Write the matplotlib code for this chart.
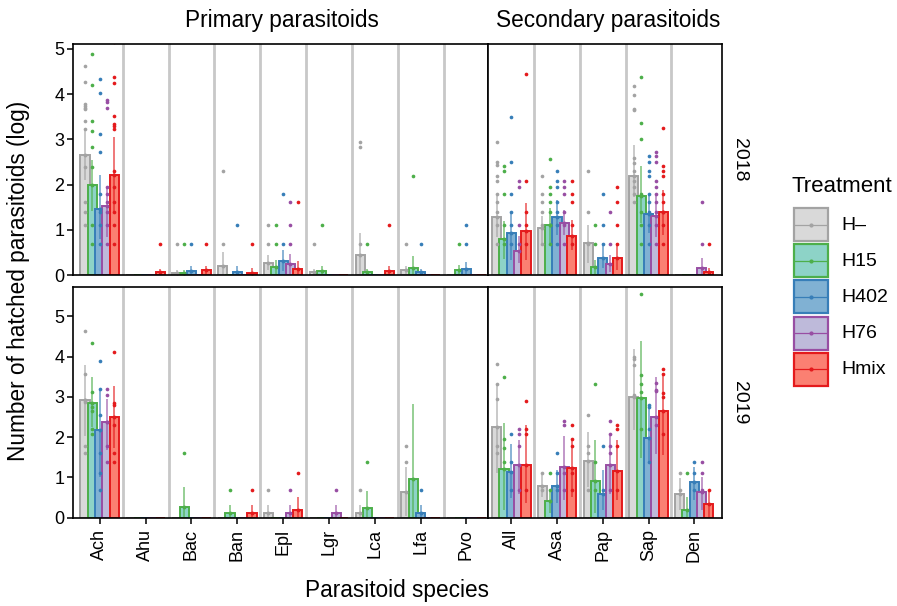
import numpy as np
import matplotlib
matplotlib.use("Agg")
import matplotlib.pyplot as plt

plt.rcParams['font.family'] = ['Liberation Sans', 'DejaVu Sans']

# treatments and colours
treatments = ["H\u2013", "H15", "H402", "H76", "Hmix"]
edge_cols = ["#a3a3a3", "#4daf4a", "#377eb8", "#984ea3", "#e41a1c"]
fill_cols = ["#d9d9d9", "#8dd3c7", "#80b1d3", "#bebada", "#fb8072"]

primary = ["Ach", "Ahu", "Bac", "Ban", "Epl", "Lgr", "Lca", "Lfa", "Pvo"]
secondary = ["All", "Asa", "Pap", "Sap", "Den"]

# ---- 2018, primary: mean and error range per species (H-, H15, H402, H76, Hmix)
mean_18_p = [[2.66, 1.98, 1.47, 1.53, 2.22], [0, 0, 0, 0, 0.06], [0.04, 0.04, 0.09, 0, 0.10],
             [0.21, 0, 0.07, 0, 0.05], [0.27, 0.18, 0.32, 0.24, 0.13], [0.06, 0.09, 0, 0, 0],
             [0.44, 0.06, 0, 0, 0.09], [0.11, 0.16, 0.07, 0, 0], [0, 0.11, 0.14, 0, 0]]
hi_18_p = [[3.22, 2.55, 2.21, 1.95, 3.06], [0, 0, 0, 0, 0.13], [0.12, 0.10, 0.20, 0, 0.20],
           [0.50, 0, 0.20, 0, 0.16], [0.44, 0.33, 0.55, 0.47, 0.30], [0.13, 0.21, 0, 0, 0],
           [0.94, 0.13, 0, 0, 0.21], [0.20, 0.42, 0.13, 0, 0], [0, 0.22, 0.28, 0, 0]]
lo_18_p = [[2.10, 1.42, 0.80, 0.85, 1.40], [0, 0, 0, 0, 0], [0, 0, 0, 0, 0],
           [0, 0, 0, 0, 0], [0.10, 0.03, 0.09, 0.01, 0], [0, 0, 0, 0, 0],
           [0, 0, 0, 0, 0], [0, 0, 0, 0, 0], [0, 0, 0, 0, 0]]
pts_18_p = [
    [[4.62, 4.26, 3.79, 3.74, 3.70, 3.67, 3.41, 3.22, 2.40, 1.61, 1.39, 1.10],
     [4.88, 4.20, 3.41, 3.18, 2.84, 2.40, 1.10, 0.69],
     [4.34, 4.02, 3.13, 2.71, 1.79, 1.39, 1.10, 0.69],
     [3.88, 3.83, 3.69, 1.95, 1.79, 1.61, 1.39, 1.10, 0.69],
     [5.15, 4.37, 4.24, 3.52, 3.34, 3.30, 3.24, 2.30, 1.95, 1.61, 1.39, 1.10, 0.69]],
    [[], [], [], [], [0.69]],
    [[0.69], [0.69], [0.69], [], [0.69]],
    [[2.30, 0.69], [], [1.10], [], [0.69]],
    [[1.10, 0.69], [1.10, 0.69], [1.79, 0.69], [1.61, 1.10, 0.69], [1.61]],
    [[0.69], [1.10], [], [], []],
    [[2.95, 2.83, 0.69], [0.69], [], [], [1.10]],
    [[0.69], [2.20], [0.69], [], []],
    [[], [0.69], [1.10, 0.69], [], []],
]

# ---- 2018, secondary
mean_18_s = [[1.28, 0.80, 0.94, 0.54, 0.98], [1.03, 1.11, 1.28, 1.16, 0.86],
             [0.70, 0.17, 0.38, 0.24, 0.37], [2.20, 1.75, 1.35, 1.31, 1.40], [0, 0, 0, 0.16, 0.06]]
hi_18_s = [[1.75, 1.20, 1.40, 0.87, 1.59], [1.30, 1.48, 1.66, 1.43, 1.22],
           [1.11, 0.33, 0.70, 0.44, 0.70], [2.88, 2.41, 1.80, 1.80, 1.88], [0, 0, 0, 0.37, 0.15]]
lo_18_s = [[0.85, 0.35, 0.33, 0.26, 0.33], [0.70, 0.70, 0.88, 0.88, 0.55],
           [0.26, 0.03, 0.15, 0.07, 0.11], [1.73, 1.14, 0.92, 0.85, 0.88], [0, 0, 0, 0, 0]]
pts_18_s = [
    [[2.95, 2.49, 2.43, 2.20, 2.08, 1.79, 1.61, 1.39, 1.10, 0.69],
     [2.41, 2.30, 1.79, 1.10, 0.69],
     [3.50, 2.49, 1.79, 1.39, 1.10, 0.69],
     [2.08, 1.95, 1.10, 0.69],
     [4.45, 2.08, 1.39, 1.10, 0.69]],
    [[2.20, 1.79, 1.61, 1.39, 1.10, 0.69],
     [2.57, 1.95, 1.79, 1.61, 1.39, 1.10, 0.69],
     [2.30, 2.08, 1.95, 1.61, 1.39, 1.10, 0.69],
     [2.08, 1.95, 1.79, 1.39, 1.10, 0.69],
     [2.08, 1.79, 1.61, 1.10, 0.69]],
    [[2.30, 1.39, 0.69], [1.10, 0.69], [1.79, 1.10, 0.69], [1.39, 0.69], [1.95, 1.61, 1.10, 0.69]],
    [[4.19, 3.99, 3.67, 3.64, 2.58, 2.47, 2.30, 2.08, 1.95, 1.79, 1.61],
     [4.37, 3.37, 3.00, 1.79, 1.39, 1.10, 0.69],
     [2.64, 2.49, 2.30, 2.20, 1.79, 1.61, 1.39, 1.10, 0.69],
     [2.71, 2.64, 2.49, 2.08, 1.95, 1.79, 1.61, 1.39, 1.10, 0.69],
     [3.26, 2.41, 2.30, 2.20, 1.79, 1.61, 1.39, 1.10, 0.69]],
    [[], [], [], [1.61, 0.69], [0.69]],
]

# ---- 2019, primary
mean_19_p = [[2.91, 2.86, 2.18, 2.38, 2.51], [0, 0, 0, 0, 0], [0, 0.26, 0, 0, 0],
             [0, 0.11, 0, 0, 0.11], [0.11, 0, 0, 0.11, 0.19], [0, 0, 0, 0.11, 0],
             [0.11, 0.23, 0, 0, 0], [0.65, 0.95, 0.11, 0, 0], [0, 0, 0, 0, 0]]
hi_19_p = [[3.79, 3.50, 3.19, 2.94, 3.28], [0, 0, 0, 0, 0], [0, 0.77, 0, 0, 0],
           [0, 0.32, 0, 0, 0.32], [0.32, 0, 0, 0.32, 0.52], [0, 0, 0, 0.32, 0],
           [0.32, 0.66, 0, 0, 0], [1.27, 2.82, 0.32, 0, 0], [0, 0, 0, 0, 0]]
lo_19_p = [[2.03, 2.26, 1.02, 1.68, 1.72], [0, 0, 0, 0, 0], [0, 0, 0, 0, 0],
           [0, 0, 0, 0, 0], [0, 0, 0, 0, 0], [0, 0, 0, 0, 0],
           [0, 0, 0, 0, 0], [0.03, 0, 0, 0, 0], [0, 0, 0, 0, 0]]
pts_19_p = [
    [[4.64, 3.56, 2.93, 2.88, 1.79, 1.61],
     [4.34, 3.13, 2.74, 2.65, 2.20, 2.08],
     [3.90, 3.19, 2.56, 1.61, 1.10, 0.69],
     [3.19, 3.04, 2.38, 1.79, 1.39],
     [4.12, 2.84, 2.80, 2.30, 1.61, 1.39]],
    [[], [], [], [], []],
    [[], [1.61], [], [], []],
    [[], [0.69], [], [], [0.69]],
    [[0.69], [], [], [0.69], [1.10]],
    [[], [], [], [0.69], []],
    [[0.69], [1.39], [], [], []],
    [[1.79, 1.39], [5.80], [0.69], [], []],
    [[], [], [], [], []],
]

# ---- 2019, secondary
mean_19_s = [[2.26, 1.20, 1.14, 1.31, 1.31], [0.79, 0.41, 0.79, 1.27, 1.24],
             [1.41, 0.90, 0.60, 1.32, 1.17], [2.99, 2.96, 1.98, 2.51, 2.65], [0.60, 0.19, 0.89, 0.64, 0.34]]
hi_19_s = [[3.33, 2.34, 1.82, 1.93, 2.29], [1.06, 0.69, 1.18, 2.02, 1.93],
           [2.13, 1.94, 1.18, 2.02, 1.93], [4.18, 4.39, 2.80, 3.50, 3.58], [0.98, 0.52, 1.27, 1.02, 0.68]]
lo_19_s = [[1.10, 0.19, 0.48, 0.60, 0.36], [0.52, 0.11, 0.36, 0.44, 0.52],
           [0.77, 0.11, 0.19, 0.60, 0.44], [2.18, 1.47, 1.39, 1.59, 1.55], [0.19, 0, 0.44, 0.19, 0]]
pts_19_s = [
    [[3.81, 3.33, 2.94, 1.79, 1.61], [3.50, 1.95, 1.72, 1.39], [2.08, 1.39, 0.69],
     [2.20, 2.08, 1.79, 0.69], [2.89, 2.20, 2.08, 0.69]],
    [[1.10, 0.69], [1.10, 0.69], [1.61, 1.10, 0.69], [2.40, 2.30, 1.10, 0.69], [2.30, 1.95, 1.79, 1.10, 0.69]],
    [[2.56, 1.79, 1.61, 0.69], [3.33, 1.39, 0.69], [1.79, 0.69], [2.40, 2.08, 1.79, 1.61, 0.69], [2.30, 2.20, 1.79, 0.69]],
    [[3.98, 3.94, 3.79, 3.04], [5.55, 3.54, 3.31, 3.13, 2.19], [2.81, 2.75, 2.19, 1.39],
     [3.35, 3.18, 3.14, 2.30], [3.68, 3.56, 3.09, 3.00, 2.08]],
    [[1.10, 0.69], [1.10], [1.39, 1.10, 0.69], [1.39, 1.10, 0.69], [0.69]],
]


def draw_panel(ax, species, means, lo, hi, pts):
    offs = (np.arange(len(treatments)) - 2) * 0.16
    for k in range(1, len(species)):
        ax.axvline(k + 0.5, color="#c8c8c8", lw=2, zorder=1)
    for i in range(len(species)):
        for j in range(len(treatments)):
            x = i + 1 + offs[j]
            ax.bar(x, means[i][j], width=0.2, color=fill_cols[j], edgecolor=edge_cols[j],
                   linewidth=1.4, zorder=2)
            if hi[i][j] > lo[i][j]:
                ax.vlines(x, lo[i][j], hi[i][j], color=edge_cols[j], lw=1.1, alpha=0.75, zorder=3)
            if means[i][j] > 0:
                ax.plot(x, means[i][j], "o", ms=1.8, color=edge_cols[j], zorder=3)
            p = pts[i][j]
            if p:
                ax.scatter([x] * len(p), p, s=7, color=edge_cols[j], lw=0, zorder=4)
    ax.set_xticks(np.arange(1, len(species) + 1))
    for s in ax.spines.values():
        s.set_linewidth(1.2)
        s.set_zorder(5)


W, H = 897, 606
fig = plt.figure(figsize=(W / 100, H / 100), dpi=100)

x_l, x_m, x_r = 72.7, 488.0, 721.7
y_rows = [(44.0, 275.0), (287.3, 517.7)]
panels = [
    (mean_18_p, lo_18_p, hi_18_p, pts_18_p, mean_18_s, lo_18_s, hi_18_s, pts_18_s, 5.11, "2018"),
    (mean_19_p, lo_19_p, hi_19_p, pts_19_p, mean_19_s, lo_19_s, hi_19_s, pts_19_s, 5.72, "2019"),
]

for r, (mp, lp, hp, pp, ms, ls, hs, ps, ytop, year) in enumerate(panels):
    yt, yb = y_rows[r]
    axl = fig.add_axes([x_l / W, 1 - yb / H, (x_m - x_l) / W, (yb - yt) / H])
    axr = fig.add_axes([x_m / W, 1 - yb / H, (x_r - x_m) / W, (yb - yt) / H])
    draw_panel(axl, primary, mp, lp, hp, pp)
    draw_panel(axr, secondary, ms, ls, hs, ps)
    axl.set_xlim(0.41, 9.47)
    axr.set_xlim(0.49, 5.6)
    for ax in (axl, axr):
        ax.set_ylim(0, ytop)
        ax.set_yticks(range(6))
    axl.tick_params(axis="y", labelsize=13, length=4, width=1.1, pad=2)
    axr.tick_params(axis="y", left=False, labelleft=False)
    if r == 0:
        for ax in (axl, axr):
            ax.tick_params(axis="x", bottom=False, labelbottom=False)
    else:
        axl.set_xticklabels(primary, rotation=90)
        axr.set_xticklabels(secondary, rotation=90)
        for ax in (axl, axr):
            ax.tick_params(axis="x", labelsize=13, length=4, width=1.1, pad=4)
    fig.text(739.5 / W, 1 - (yt + yb) / 2 / H, year, rotation=270, ha="center", va="center", fontsize=14)

fig.text((x_l + x_m) / 2 / W + 0.002, 1 - 20 / H, "Primary parasitoids", ha="center", va="center", fontsize=16.3)
fig.text((x_m + x_r) / 2 / W + 0.004, 1 - 20 / H, "Secondary parasitoids", ha="center", va="center", fontsize=16.3)
fig.text(19 / W, 1 - 281 / H, "Number of hatched parasitoids (log)", rotation=90,
         ha="center", va="center", fontsize=16.3)
fig.text(397 / W, 1 - 591 / H, "Parasitoid species", ha="center", va="center", fontsize=16.3)

# legend drawn in pixel coordinates
lg = fig.add_axes([0, 0, 1, 1])
lg.set_xlim(0, W)
lg.set_ylim(H, 0)
lg.axis("off")
lg.text(792, 186, "Treatment", fontsize=16, va="center", ha="left")
for j, t in enumerate(treatments):
    top = 208 + j * 36.2
    lg.add_patch(plt.Rectangle((794, top), 34, 33, facecolor=fill_cols[j], edgecolor=edge_cols[j], lw=1.6))
    lg.plot([795, 827], [top + 16.5, top + 16.5], color=edge_cols[j], lw=0.9)
    lg.plot(811, top + 16.5, "o", ms=2, color=edge_cols[j])
    lg.text(841, top + 17, t, fontsize=14, va="center", ha="left")

fig.savefig("out.png", dpi=100)
